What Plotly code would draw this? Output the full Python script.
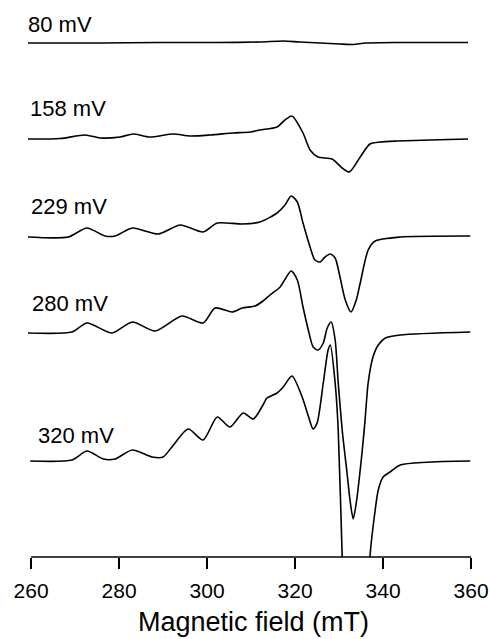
import plotly.graph_objects as go

# Magnetic field (mT) and EPR signal (arbitrary units, baseline = 0, positive up)
labels = ["80 mV", "158 mV", "229 mV", "280 mV", "320 mV"]

field_80 = [259.3, 275.7, 288.9, 302.3, 312.0, 317.3, 321.0, 325.7, 330.2, 333.2, 336.0, 343.9, 353.0, 359.3]
sig_80 = [0, 0, 0.5, 0.5, 1, 2, 1, 0, -1, -1.5, 0, 0.5, 0.5, 0.5]

field_158 = [259.3, 266.6, 272.3, 275.7, 280.2, 283.2, 287.0, 292.3, 296.1, 300.7, 305.9, 309.8, 312.0,
             315.9, 317.7, 319.3, 321.8, 323.4, 325.2, 328.4, 330.7, 332.3, 334.8, 337.0, 339.3, 343.2,
             350.7, 359.3]
sig_158 = [0, 0.5, 4, 1, 2, 5, 2, 5, 3, 4, 6, 7, 9,
           12, 19, 23, 6, -11, -18, -20, -29, -33, -18, -5, -3, -2,
           -1, 0]

field_229 = [259.3, 268.4, 272.7, 276.8, 279.1, 283.0, 288.9, 293.9, 299.1, 302.3, 308.0, 312.0,
             315.9, 317.7, 319.1, 320.5, 321.8, 323.4, 324.5, 325.7, 326.8, 328.0, 329.1, 330.2,
             331.4, 332.7, 333.9, 334.8, 336.6, 338.2, 343.9, 359.8]
sig_229 = [0, 0, 9, 1, 1, 9, 3, 12, 5, 14, 13, 15,
           24, 32, 41, 35, 14, -10, -23, -25, -20, -17, -21, -40,
           -63, -75, -63, -46, -13, -4, 0, 1]

field_280 = [259.3, 269.3, 272.7, 278.4, 283.0, 288.2, 294.3, 299.1, 301.8, 305.7, 308.0, 310.9,
             312.7, 314.3, 316.6, 319.1, 320.5, 321.8, 323.0, 324.1, 325.2, 326.4, 327.3, 328.2,
             329.1, 329.8, 330.7, 331.8, 332.5, 333.2, 333.9, 335.2, 335.9, 336.6, 337.7, 338.9,
             340.5, 343.9, 359.8]
sig_280 = [0, 1, 10, 0, 11, 2, 17, 10, 25, 21, 25, 27,
           32, 38, 46, 62, 53, 26, 3, -14, -17, -10, 5, 11,
           -7, -50, -97, -140, -168, -186, -170, -120, -87, -50, -24, -12,
           -5, -2, 1]

field_320 = [259.8, 269.3, 272.7, 276.4, 279.1, 283.0, 287.5, 290.0, 292.0, 295.7, 299.1, 302.3,
             305.2, 308.2, 310.5, 312.7, 313.6, 315.9, 317.3, 319.3, 321.6, 323.0, 324.1, 325.0,
             326.4, 327.5, 328.0, 329.1, 329.8, 330.7, 331.6, 332.5, 333.6, 334.8, 335.9, 337.0,
             338.2, 338.9, 340.0, 341.6, 343.9, 359.8]
sig_320 = [0, 1, 10, 2, 2, 11, 4, 4, 14, 32, 21, 44,
           34, 48, 42, 56, 63, 68, 74, 85, 64, 45, 32, 38,
           78, 111, 116, 78, 31, -96, -210, -300, -330, -300, -200, -96,
           -49, -29, -16, -11, -4, 0]

fields = [field_80, field_158, field_229, field_280, field_320]
signals = [sig_80, sig_158, sig_229, sig_280, sig_320]

x_title = "Magnetic field (mT)"
tick_values = [260, 280, 300, 320, 340, 360]

# vertical stacking of the spectra and label placement (layout only)
offsets = [514, 418, 320, 224, 96]
label_x = [-0.004, 0.0, 0.002, 0.005, 0.018]
label_y = [533, 449, 351, 254, 122]

FONT = "Liberation Sans, Arial, Helvetica, sans-serif"

fig = go.Figure()
for f, s, off in zip(fields, signals, offsets):
    fig.add_trace(go.Scatter(
        x=f, y=[v + off for v in s], mode="lines",
        line=dict(color="black", width=1.6, shape="spline", smoothing=0.7),
        showlegend=False, hoverinfo="skip"))

for lab, lx, ly in zip(labels, label_x, label_y):
    fig.add_annotation(x=lx, y=ly, xref="paper", yref="y", text=lab, showarrow=False,
                       xanchor="left", yanchor="middle",
                       font=dict(family=FONT, size=22, color="black"))

# axis title
fig.add_annotation(x=0.508, y=-0.119, xref="paper", yref="paper", text=x_title,
                   showarrow=False, xanchor="center", yanchor="middle",
                   font=dict(family=FONT, size=27, color="black"))

# x axis baseline from 260 to 360
fig.add_shape(type="line", xref="x", yref="paper", x0=260, x1=360, y0=0, y1=0,
              line=dict(color="black", width=1.6))

fig.update_layout(
    width=490, height=639,
    margin=dict(l=28, r=18, t=10, b=82, autoexpand=False),
    paper_bgcolor="white", plot_bgcolor="white",
    xaxis=dict(range=[259.3, 360.2], showgrid=False, zeroline=False, showline=False,
               automargin=False,
               tickmode="array", tickvals=tick_values,
               ticks="outside", ticklen=11, tickwidth=1.6, tickcolor="black",
               ticklabelstandoff=4,
               tickfont=dict(family=FONT, size=21, color="black")),
    yaxis=dict(range=[0, 547], visible=False),
)

fig.write_html("out.html")
